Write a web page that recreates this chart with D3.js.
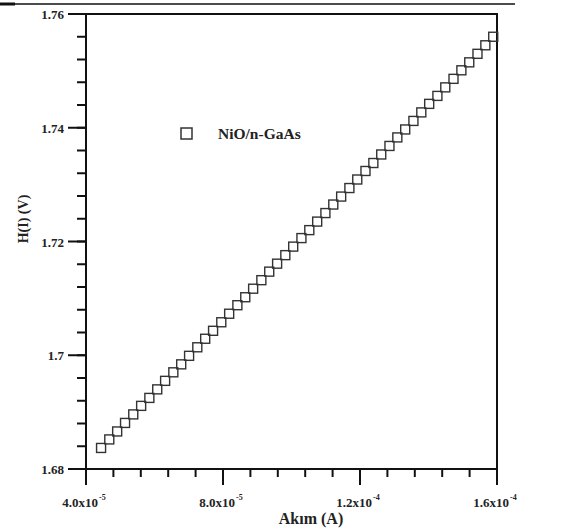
<!DOCTYPE html>
<html>
<head>
<meta charset="utf-8">
<script src="https://cdn.jsdelivr.net/npm/d3@7"></script>
<style>
body{margin:0;background:#fff;}
svg text{font-family:"Liberation Serif","Times New Roman",serif;font-weight:bold;fill:#222;}
</style>
</head>
<body>
<script>
// current (A) and H(I) (V)
var current = [4.44e-5, 4.68e-5, 4.91e-5, 5.14e-5, 5.38e-5, 5.61e-5, 5.85e-5, 6.08e-5, 6.31e-5, 6.55e-5,
	6.78e-5, 7.01e-5, 7.25e-5, 7.48e-5, 7.71e-5, 7.95e-5, 8.18e-5, 8.42e-5, 8.65e-5, 8.88e-5,
	9.12e-5, 9.35e-5, 9.58e-5, 9.82e-5, 1.005e-4, 1.029e-4, 1.052e-4, 1.075e-4, 1.099e-4, 1.122e-4,
	1.145e-4, 1.169e-4, 1.192e-4, 1.216e-4, 1.239e-4, 1.262e-4, 1.286e-4, 1.309e-4, 1.332e-4, 1.356e-4,
	1.379e-4, 1.402e-4, 1.426e-4, 1.449e-4, 1.473e-4, 1.496e-4, 1.519e-4, 1.543e-4, 1.566e-4, 1.589e-4];
var hValues = [1.6837, 1.6852, 1.6866, 1.6881, 1.6896, 1.6911, 1.6925, 1.6940, 1.6955, 1.6970,
	1.6984, 1.6999, 1.7014, 1.7029, 1.7043, 1.7058, 1.7073, 1.7088, 1.7102, 1.7117,
	1.7132, 1.7147, 1.7161, 1.7176, 1.7191, 1.7206, 1.7220, 1.7235, 1.7250, 1.7265,
	1.7279, 1.7294, 1.7309, 1.7324, 1.7338, 1.7353, 1.7368, 1.7383, 1.7397, 1.7412,
	1.7427, 1.7442, 1.7456, 1.7471, 1.7486, 1.7501, 1.7515, 1.7530, 1.7545, 1.7560];
var xTicks = [4e-5, 8e-5, 1.2e-4, 1.6e-4];
var xTickMant = ["4.0x10", "8.0x10", "1.2x10", "1.6x10"];
var xTickExp = ["-5", "-5", "-4", "-4"];
var yTicks = [1.68, 1.70, 1.72, 1.74, 1.76];
var yTickLabels = ["1.68", "1.7", "1.72", "1.74", "1.76"];
var seriesName = "NiO/n-GaAs";

var W = 571, H = 529;
var pLeft = 86, pRight = 497, pTop = 14, pBottom = 469;

var svg = d3.select("body").append("svg").attr("width", W).attr("height", H);

var x = d3.scaleLinear().domain([4e-5, 1.6e-4]).range([pLeft, pRight]);
var y = d3.scaleLinear().domain([1.68, 1.76]).range([pBottom, pTop]);

// page rule at the top
svg.append("line").attr("x1", 0).attr("x2", 515).attr("y1", 4).attr("y2", 4)
	.attr("stroke", "#111").attr("stroke-width", 1.5);
svg.append("line").attr("x1", 0).attr("x2", 15).attr("y1", 4).attr("y2", 4)
	.attr("stroke", "#111").attr("stroke-width", 3);

// minor ticks
var xMinor = d3.range(0, 16).map(function(i){ return 4e-5 + i * 8e-6; });
var yMinor = d3.range(0, 21).map(function(i){ return 1.68 + i * 0.004; });

var xAxis = svg.append("g").attr("transform", "translate(0," + pBottom + ")");
xAxis.selectAll("line.minor").data(xMinor).enter().append("line")
	.attr("x1", function(d){ return x(d); }).attr("x2", function(d){ return x(d); })
	.attr("y1", 0).attr("y2", 8).attr("stroke", "#111").attr("stroke-width", 2);
xAxis.selectAll("line.major").data(xTicks).enter().append("line")
	.attr("x1", function(d){ return x(d); }).attr("x2", function(d){ return x(d); })
	.attr("y1", 0).attr("y2", 16).attr("stroke", "#111").attr("stroke-width", 2);
var xl = xAxis.selectAll("text.tl").data(xTicks).enter().append("text")
	.attr("x", function(d){ return x(d) - 2; }).attr("y", 38)
	.attr("text-anchor", "middle").style("font-size", "13px");
xl.append("tspan").text(function(d, i){ return xTickMant[i]; });
xl.append("tspan").attr("dx", 1).attr("dy", -7).style("font-size", "8px").text(function(d, i){ return xTickExp[i]; });

var yAxis = svg.append("g").attr("transform", "translate(" + pLeft + ",0)");
yAxis.selectAll("line.minor").data(yMinor).enter().append("line")
	.attr("y1", function(d){ return y(d); }).attr("y2", function(d){ return y(d); })
	.attr("x1", 0).attr("x2", -9).attr("stroke", "#111").attr("stroke-width", 2);
yAxis.selectAll("line.major").data(yTicks).enter().append("line")
	.attr("y1", function(d){ return y(d); }).attr("y2", function(d){ return y(d); })
	.attr("x1", 0).attr("x2", -18).attr("stroke", "#111").attr("stroke-width", 2);
yAxis.selectAll("text.tl").data(yTicks).enter().append("text")
	.attr("x", -22).attr("y", function(d){ return y(d) + 5; })
	.attr("text-anchor", "end").style("font-size", "13px")
	.text(function(d, i){ return yTickLabels[i]; });

// frame
svg.append("rect").attr("x", pLeft).attr("y", pTop).attr("width", pRight - pLeft).attr("height", pBottom - pTop)
	.attr("fill", "none").attr("stroke", "#111").attr("stroke-width", 2);

// points
var pts = current.map(function(c, i){ return [c, hValues[i]]; });
svg.append("g").selectAll("rect").data(pts).enter().append("rect")
	.attr("x", function(d){ return x(d[0]) - 4.5; })
	.attr("y", function(d){ return y(d[1]) - 4.5; })
	.attr("width", 9).attr("height", 9)
	.attr("fill", "none").attr("stroke", "#333").attr("stroke-width", 1.4);

// legend
svg.append("rect").attr("x", 181).attr("y", 128).attr("width", 11).attr("height", 11)
	.attr("fill", "none").attr("stroke", "#333").attr("stroke-width", 1.5);
svg.append("text").attr("x", 218).attr("y", 139).style("font-size", "15.5px").text(seriesName);

// axis titles
svg.append("text").attr("x", 311).attr("y", 524).attr("text-anchor", "middle")
	.style("font-size", "16px").text("Akım (A)");
svg.append("text").attr("transform", "translate(28,219) rotate(-90)").attr("text-anchor", "middle")
	.style("font-size", "14px").text("H(I) (V)");
</script>
</body>
</html>
